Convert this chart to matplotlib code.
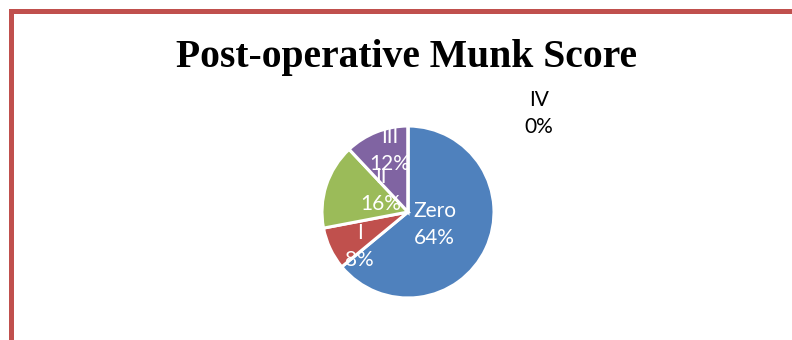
import numpy as np
import matplotlib
matplotlib.use("Agg")
import matplotlib.pyplot as plt
from matplotlib.lines import Line2D

# data
categories = ["Zero", "I", "II", "III", "IV"]
percents = [64, 8, 16, 12, 0]
colors = ["#4F81BD", "#C0504D", "#9BBB59", "#8064A2", "#F79646"]

# label placement (radius as fraction of pie radius, angle offset in degrees)
label_r = [0.34, 0.69, 0.40, 0.75, 1.91]
label_dang = [0, 10, -20, -5, -53]
label_col = ["white", "white", "white", "white", "black"]

fig = plt.figure(figsize=(7.92, 3.40), dpi=100)

# red frame (top and left edges)
fig.add_artist(Line2D([11 / 792, 1.0], [1 - 10.5 / 340] * 2, color="#C0504D", lw=3.6,
                      transform=fig.transFigure, solid_capstyle="projecting"))
fig.add_artist(Line2D([11 / 792] * 2, [0.0, 1 - 10.5 / 340], color="#C0504D", lw=3.6,
                      transform=fig.transFigure, solid_capstyle="projecting"))

fig.text(407 / 792, 1 - 57 / 340, "Post-operative Munk Score", ha="center", va="center",
         fontsize=28.5, fontweight="bold", family="Liberation Serif")

cx, cy, r = 408, 212, 86
ax = fig.add_axes([(cx - r) / 792, (340 - cy - r) / 340, 2 * r / 792, 2 * r / 340])
wedges, _ = ax.pie(percents, colors=colors, startangle=90, counterclock=False,
                   radius=1.0, wedgeprops=dict(edgecolor="white", linewidth=2.2))
ax.set_xlim(-1, 1)
ax.set_ylim(-1, 1)
ax.set_aspect("equal")
ax.axis("off")

for i, w in enumerate(wedges):
    ang = np.deg2rad((w.theta1 + w.theta2) / 2 + label_dang[i])
    x = label_r[i] * np.cos(ang)
    y = label_r[i] * np.sin(ang)
    ax.text(x, y, "%s\n%d%%" % (categories[i], percents[i]), ha="center", va="center",
            color=label_col[i], fontsize=15, family="Lato", linespacing=1.45, clip_on=False)

fig.savefig("out.png", dpi=100)
